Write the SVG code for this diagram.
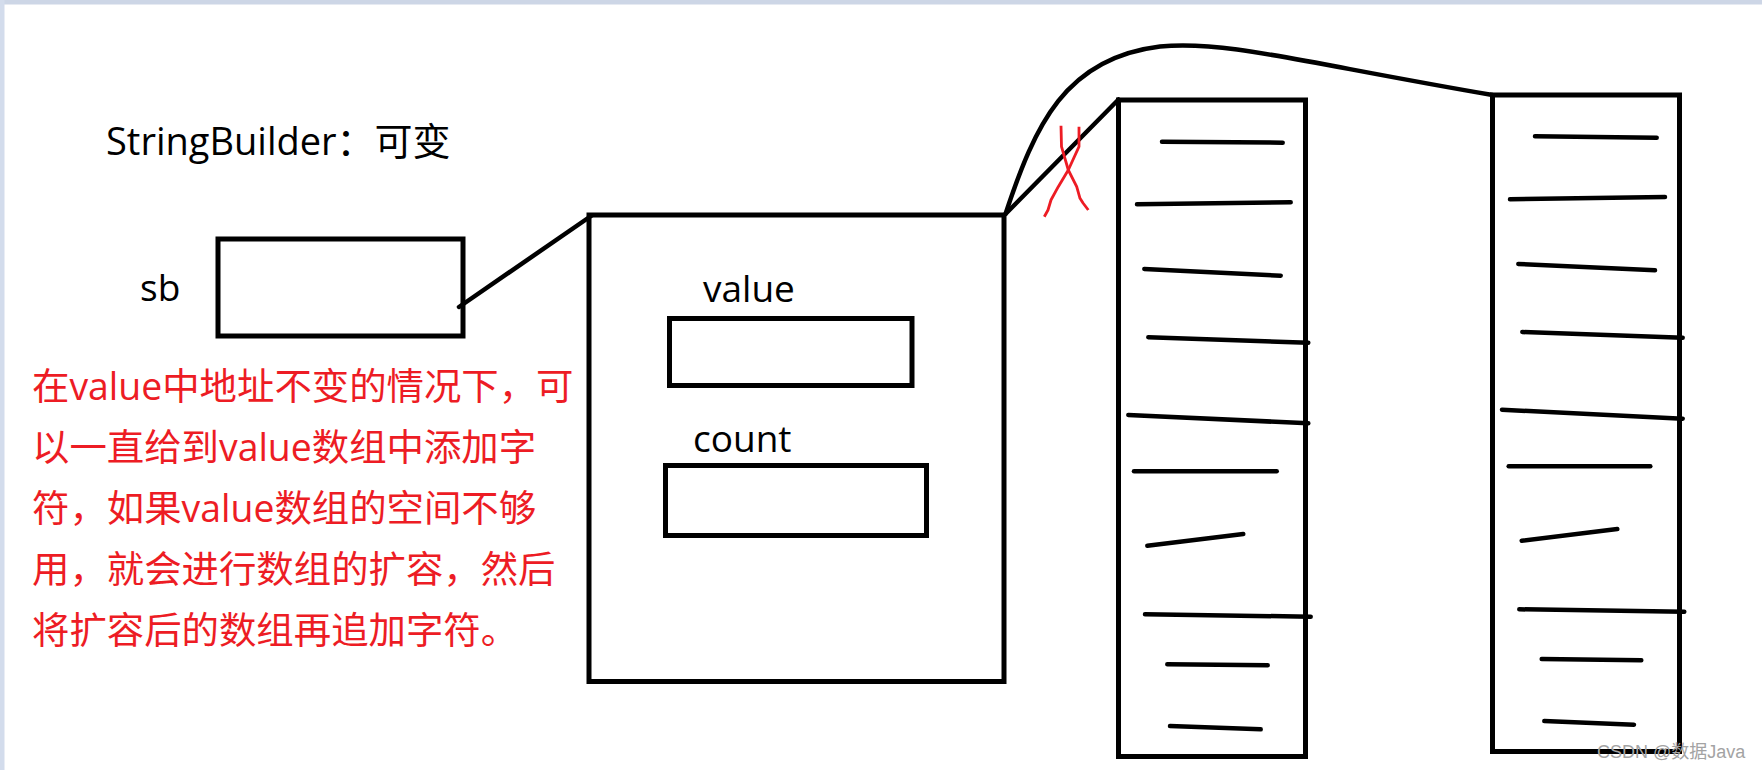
<svg xmlns="http://www.w3.org/2000/svg" width="1762" height="770" viewBox="0 0 1762 770">
<style>
.box{fill:none;stroke:#000;stroke-width:5}
.dash{fill:none;stroke:#000;stroke-width:4.5;stroke-linecap:round}
.wire{fill:none;stroke:#000;stroke-width:4.5;stroke-linecap:round;stroke-linejoin:round}
.lbl{font-family:"Open Sans","Noto Sans CJK SC",sans-serif;font-size:37px;fill:#000}
.note{font-family:"Open Sans","Noto Sans CJK SC",sans-serif;font-size:37.4px;fill:#ed1c24}
.cross{fill:none;stroke:#ed1c24;stroke-width:2.8;stroke-linejoin:round}
.wm{font-family:"Liberation Sans","Noto Sans CJK SC",sans-serif;font-size:18px;fill:#a3a3a3}
</style>
<rect x="0" y="0" width="1762" height="770" fill="#fff"/>
<rect x="0" y="0" width="1762" height="4.5" fill="#cdd6e6"/>
<rect x="0" y="0" width="4.5" height="770" fill="#d3dcec"/>

<g id="title">
<text class="lbl" x="106" y="155" style="font-size:38px">StringBuilder：可变</text>
</g>

<g id="sb">
<text class="lbl" x="140" y="301">sb</text>
<rect class="box" x="218" y="239" width="245" height="97"/>
</g>

<g id="stringbuilder-object">
<rect class="box" x="589" y="215" width="415" height="466.5"/>
</g>

<g id="value-field">
<text class="lbl" x="703" y="302">value</text>
<rect class="box" x="669.5" y="318.5" width="242.5" height="67"/>
</g>

<g id="count-field">
<text class="lbl" x="693" y="452">count</text>
<rect class="box" x="665.5" y="465.5" width="261" height="70"/>
</g>

<g id="array-old">
<rect class="box" x="1118.5" y="100" width="187" height="656.5"/>
<line class="dash" x1="1162" y1="141.7" x2="1282.7" y2="142.7"/>
<line class="dash" x1="1137" y1="204.3" x2="1290.7" y2="202.3"/>
<line class="dash" x1="1144.3" y1="269" x2="1280.7" y2="275.7"/>
<line class="dash" x1="1148.3" y1="337.3" x2="1308.3" y2="342.7"/>
<line class="dash" x1="1128.3" y1="415" x2="1308.3" y2="423.3"/>
<line class="dash" x1="1134" y1="471.3" x2="1276.7" y2="471.3"/>
<line class="dash" x1="1147.3" y1="545.7" x2="1243.3" y2="534"/>
<line class="dash" x1="1145" y1="614.3" x2="1310.7" y2="616.7"/>
<line class="dash" x1="1167.3" y1="664.3" x2="1267.7" y2="665.3"/>
<line class="dash" x1="1170" y1="726" x2="1260.7" y2="729.3"/>
</g>

<g id="array-new">
<rect class="box" x="1492.5" y="95" width="187" height="656.5"/>
<line class="dash" x1="1535" y1="136.3" x2="1656.7" y2="137.7"/>
<line class="dash" x1="1510" y1="199.3" x2="1665" y2="197"/>
<line class="dash" x1="1518.3" y1="264" x2="1655" y2="270.3"/>
<line class="dash" x1="1522.3" y1="332" x2="1682.7" y2="337.7"/>
<line class="dash" x1="1502" y1="409.7" x2="1682.7" y2="418.7"/>
<line class="dash" x1="1508.7" y1="466.3" x2="1650.3" y2="466.3"/>
<line class="dash" x1="1521.7" y1="540.7" x2="1617.3" y2="529"/>
<line class="dash" x1="1519.3" y1="609.3" x2="1684.3" y2="611.7"/>
<line class="dash" x1="1541.7" y1="659" x2="1641.3" y2="660.3"/>
<line class="dash" x1="1544.3" y1="721" x2="1634" y2="724.7"/>
</g>

<g id="connectors">
<line class="wire" x1="459" y1="307" x2="591" y2="216"/>
<line class="wire" x1="1005.5" y1="214" x2="1118.5" y2="99.5"/>
<path class="wire" d="M1005.5,214 C1035,125 1065,58 1160,46.5 C1225,40 1300,62 1492.5,95"/>
<g id="cross">
<path class="cross" d="M1061,125.7 L1061.5,146.7 L1068.3,170 L1076.7,186.7 L1080,198.3 L1083,203 L1088.3,210"/>
<path class="cross" d="M1079,126.7 L1079,146.7 L1068.3,170 L1058.3,186.7 L1051,200 L1048,210 L1044.3,216.7"/>
</g>
</g>

<g id="note">
<text class="note" x="32" y="400">在value中地址不变的情况下，可</text>
<text class="note" x="32" y="461">以一直给到value数组中添加字</text>
<text class="note" x="32" y="522">符，如果value数组的空间不够</text>
<text class="note" x="32" y="583">用，就会进行数组的扩容，然后</text>
<text class="note" x="32" y="644">将扩容后的数组再追加字符。</text>
</g>

<g id="watermark">
<text class="wm" x="1597" y="758">CSDN @数据Java</text>
</g>
</svg>
